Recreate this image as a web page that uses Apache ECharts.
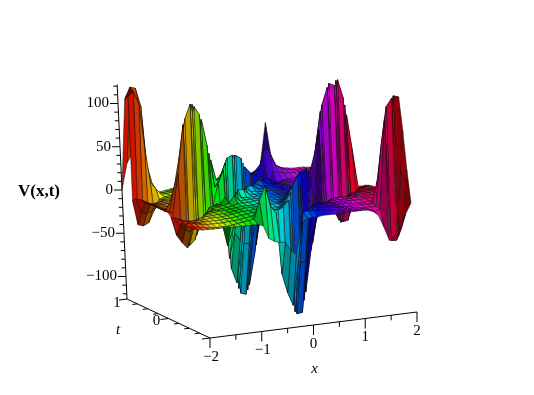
<!DOCTYPE html>
<html><head><meta charset="utf-8">
<style>html,body{margin:0;padding:0;background:#fff}#c{width:534px;height:395px}</style>
<script src="https://cdn.jsdelivr.net/npm/echarts@6/dist/echarts.min.js"></script>
</head><body><div id="c"></div>
<script>
const xValues=[-2,-1.9,-1.8,-1.7,-1.6,-1.5,-1.4,-1.3,-1.2,-1.1,-1,-0.9,-0.8,-0.7,-0.6,-0.5,-0.4,-0.3,-0.2,-0.1,0,0.1,0.2,0.3,0.4,0.5,0.6,0.7,0.8,0.9,1,1.1,1.2,1.3,1.4,1.5,1.6,1.7,1.8,1.9,2];
const tValues=[1,0.9,0.8,0.7,0.6,0.5,0.4,0.3,0.2,0.1,0,-0.1,-0.2,-0.3,-0.4,-0.5,-0.6,-0.7,-0.8,-0.9,-1];
const surface=[
[0,30,40,30,5,-9,-8,-7,-6,-5,-4,-3,-2,-1,0,1,1,1,1,2,2,2,1,1,2,5,12,58,20,8,5,4,3,3,3,2,2,2,2,1,1],
[105,118,116,95,28,6,-6,-6,-5,-4,-3,-2,-1,0,1,1,1,1,1,2,2,5,3,3,4,8,30,28,12,8,5,4,3,3,3,2,2,2,2,2,2],
[110,115,100,50,10,2,-5,-5,-4,-3,-2,-1,0,0,1,1,1,1,1,2,6,12,7,6,5,-15,-5,6,5,4,3,3,3,2,2,2,2,2,2,2,2],
[-6,-34,-36,-33,-20,-8,-6,-5,-4,-3,-2,-1,0,0,1,1,1,1,9,8,16,18,11,-72,-35,2,-6,-4,-2,-1,0,0,1,1,1,1,1,1,1,1,1],
[-2,-18,-20,-18,-12,-6,-5,-4,-3,-2,-2,-1,0,0,1,1,1,10,24,21,25,-114,-81,-36,-17,2,-2,-1,0,0,0,0,1,1,1,1,1,1,18,8,6],
[-1,-5,-8,-7,-6,-5,-4,-3,-3,-2,-2,-1,10,4,5,10,11,26,37,33,-117,-57,-40,7,6,2,0,0,0,0,0,0,0,0,1,1,1,22,47,21,10],
[0,-4,-6,-6,-5,-4,-4,-3,-3,-2,-2,12,26,10,9,26,28,40,-117,-119,-58,8,8,4,3,2,1,0,0,0,0,0,0,1,1,30,24,56,72,32,-10],
[0,-3,-5,-5,-4,-4,-3,-3,-2,23,15,32,40,16,24,40,43,-109,-58,-60,8,5,4,3,3,2,1,0,0,-1,-1,-1,0,0,30,77,63,86,-28,-20,-8],
[0,-3,-5,-5,-4,-3,-3,27,25,60,40,50,11,20,37,-83,-100,-54,8,8,4,4,3,3,2,2,1,0,0,-1,-1,-1,30,29,78,118,97,-36,-14,-10,-5],
[0,-3,-5,-4,-4,-3,29,72,65,92,62,-8,17,32,-69,-40,-50,9,4,4,3,3,3,2,2,1,1,0,-1,-1,25,30,78,76,120,-41,-40,-18,-5,-4,-3],
[0,-3,-4,-4,25,30,75,110,100,-14,-10,-3,-25,-52,-34,10,10,4,3,3,3,2,2,2,1,1,0,7,-1,24,64,77,120,117,-39,-20,-20,-4,-3,-2,-2],
[0,-2,10,25,66,77,115,-28,-19,-4,-3,-2,6,-25,10,3,3,3,3,3,2,2,2,1,1,1,8,18,20,61,99,118,-22,-34,-18,-5,-4,-3,-2,-2,-1],
[0,-2,28,64,102,118,-31,-14,-9,-3,-2,-1,1,9,2,3,3,3,3,2,2,2,2,1,8,9,20,27,50,94,-18,-20,-5,-16,-4,-3,-2,-2,-1,-1,-1],
[1,-1,43,98,-40,-34,-15,-5,-4,-3,-2,-1,0,2,2,2,3,3,3,2,2,2,1,9,22,23,31,-20,76,-16,-4,-3,-3,-3,-3,-2,-2,-1,-1,-1,-1],
[-3,-24,-33,-40,-20,-17,-5,-4,-3,-2,-2,-1,0,1,1,1,2,2,2,2,1,6,9,23,34,35,-49,-10,-12,-3,-3,-3,-3,-3,-2,-2,-2,-1,-1,-1,-1],
[-2,-12,-16,-20,-6,-5,-4,-4,-3,-3,-2,-1,0,1,1,1,1,2,2,2,5,14,22,35,-101,-55,-22,-2,-2,-3,-3,-3,-3,-3,-3,-2,-2,-2,-1,29,29],
[-1,-4,-5,-5,-5,-5,-4,-4,-4,-3,-2,-1,0,0,1,1,1,1,1,1,12,22,34,-108,-48,-25,0,-1,-2,-3,-3,-3,-4,-4,-4,-3,-3,27,29,75,74],
[-1,-3,-4,-5,-5,-5,-5,-5,-4,-4,-3,-2,-1,0,1,1,1,1,1,8,18,-120,-119,-50,2,1,0,-1,-2,-3,-4,-4,-4,-4,-4,-4,24,70,75,116,114],
[-3,-3,-4,-5,-6,-6,-6,-6,-5,-5,-4,-3,-2,0,3,20,3,2,5,12,-115,-60,-59,2,1,0,0,-1,-2,-3,-4,-4,-5,-5,-5,-5,63,107,116,-42,78],
[-4,-5,-6,-7,-8,-8,-8,-8,-7,-6,-5,-4,-3,17,34,10,2,-68,-90,-105,-55,0,0,0,0,-1,-1,-2,-3,-3,-4,-4,-4,-5,-8,-6,97,-43,-43,-28,35],
[-4,-6,-7,-7,-7,-7,-7,-7,-7,-7,-7,-7,-7,-9,-24,-28,-30,-30,-40,-45,-10,-6,-5,-5,-4,-4,-4,-3,-3,-3,-3,-3,-3,-5,-10,-24,-40,-35,-26,-12,0]
];
const zTicks=[100,50,0,-50,-100];
const zTickLabels=['100','50','0','\u221250','\u2212100'];
const zMinorTicks=[120,110,90,80,70,60,40,30,20,10,-10,-20,-30,-40,-60,-70,-80,-90,-110,-120];
const tTicks=[1,0,-1];
const tTickLabels=['1','0',''];
const tMinorTicks=[0.75,0.5,0.25,-0.25,-0.5,-0.75];
const xTicks=[-2,-1,0,1,2];
const xTickLabels=['\u22122','\u22121','0','1','2'];
const xMinorTicks=[-1.5,-0.5,0.5,1.5];
const zTop=122,zBottom=-126;

// View of the box: where its z=0 sheet and its floor corners fall on the page
const level0={a:[122,190],b:[192,225],c:[411,203],d:[335,166]};
const floor={a:[127,299],b:[210,338],c:[417,312],d:[340,275]};
const zLean=[1,111];
function bil(s,u,v,k){return (1-u)*(1-v)*s.a[k]+(1-u)*v*s.b[k]+u*v*s.c[k]+u*(1-v)*s.d[k];}
function project(x,t,z){
  const u=(x+2)/4,v=(1-t)/2,k=-z/126;
  return [bil(level0,u,v,0)+zLean[0]*k,bil(level0,u,v,1)+zLean[1]*k];
}
function projectAxis(x,t,z){
  const u=(x+2)/4,v=(1-t)/2,k=-z/126;
  const p=[bil(level0,u,v,0),bil(level0,u,v,1)],f=[bil(floor,u,v,0),bil(floor,u,v,1)];
  return [p[0]+(f[0]-p[0])*k,p[1]+(f[1]-p[1])*k];
}
function hueRgb(h){
  h=((h%360)+360)%360;const s=h/60,i=Math.floor(s),f=s-i;
  return [[1,f,0],[1-f,1,0],[0,1,f],[0,1-f,1],[f,0,1],[1,0,1-f]][i];
}
function quadColor(i,j){
  const z00=surface[i][j],z01=surface[i][j+1],z10=surface[i+1][j],z11=surface[i+1][j+1];
  const dzx=((z01-z00)+(z11-z10))/2/0.1/55, dzt=((z00-z10)+(z01-z11))/2/0.1/55;
  const len=Math.sqrt(dzx*dzx+dzt*dzt+1);
  const n=[-dzx/len,-dzt/len,1/len],L=[0.45,-0.55,0.7];
  const b=Math.abs(n[0]*L[0]+n[1]*L[1]+n[2]*L[2]);
  const f=Math.min(0.92,0.32+0.8*b);
  const u=(xValues[j]+xValues[j+1]+4)/8;
  const c=hueRgb(360*u+25*Math.sin(Math.PI*u));
  return 'rgb('+c.map(v=>Math.round(255*v*f)).join(',')+')';
}
const quads=[];
for(let i=0;i<tValues.length-1;i++)for(let j=xValues.length-2;j>=0;j--)quads.push([j,i]);

const axisItems=[];
function seg(a,b,w){axisItems.push({kind:'line',a,b,w:w||1});}
function tick(p,dx,dy){axisItems.push({kind:'tick',a:p,dx,dy});}
function txt(p,dx,dy,text,font,align){axisItems.push({kind:'text',a:p,dx,dy,text,font,align});}
const serif='"Liberation Serif","Times New Roman",serif';
seg([-2,1,zTop],[-2,1,zBottom]);
seg([-2,1,zBottom],[-2,-1,zBottom]);
seg([-2,-1,zBottom],[2,-1,zBottom]);
zTicks.forEach((z,i)=>{tick([-2,1,z],-8,0);txt([-2,1,z],-9,0,zTickLabels[i],'15px '+serif,'right');});
zMinorTicks.forEach(z=>tick([-2,1,z],-4,0));
tTicks.forEach((t,i)=>{tick([-2,t,zBottom],-8,1);if(tTickLabels[i])txt([-2,t,zBottom],t===1?-10:-12,t===1?4:3,tTickLabels[i],'15px '+serif,'center');});
tMinorTicks.forEach(t=>tick([-2,t,zBottom],-5,0.6));
xTicks.forEach((x,i)=>{tick([x,-1,zBottom],0,10);txt([x,-1,zBottom],x===-2?1:(x===-1?1:0),19,xTickLabels[i],'15px '+serif,'center');});
xMinorTicks.forEach(x=>tick([x,-1,zBottom],0,5));
txt([0,-1,zBottom],1,44,'x','italic 15px '+serif,'center');
txt([-2,1,zBottom],-9,31,'t','italic 15px '+serif,'center');
txt([-2,1,0],-83,2,'V(x,t)','bold 17px '+serif,'center');

const chart=echarts.init(document.getElementById('c'),null,{renderer:'canvas'});
chart.setOption({
  animation:false,
  backgroundColor:'#fff',
  grid:{left:0,right:0,top:0,bottom:0},
  xAxis:{type:'value',min:0,max:534,show:false},
  yAxis:{type:'value',min:0,max:395,inverse:true,show:false},
  tooltip:{show:false},
  series:[
  {
    type:'custom',coordinateSystem:'cartesian2d',silent:true,progressive:0,clip:false,
    data:quads,
    renderItem(params,api){
      const j=api.value(0),i=api.value(1);
      const pt=(r,c)=>api.coord(project(xValues[c],tValues[r],surface[r][c]));
      return {type:'polygon',shape:{points:[pt(i,j),pt(i,j+1),pt(i+1,j+1),pt(i+1,j)]},
        style:{fill:quadColor(i,j),stroke:'rgba(10,10,10,0.75)',lineWidth:0.65}};
    }
  },
  {
    type:'custom',coordinateSystem:'cartesian2d',silent:true,progressive:0,clip:false,
    data:axisItems.map((d,k)=>[k]),
    renderItem(params,api){
      const d=axisItems[api.value(0)];
      const a=api.coord(projectAxis(d.a[0],d.a[1],d.a[2]));
      if(d.kind==='line'){
        const b=api.coord(projectAxis(d.b[0],d.b[1],d.b[2]));
        return {type:'line',shape:{x1:a[0],y1:a[1],x2:b[0],y2:b[1]},style:{stroke:'#000',lineWidth:d.w}};
      }
      if(d.kind==='tick'){
        return {type:'line',shape:{x1:a[0],y1:a[1],x2:a[0]+d.dx,y2:a[1]+d.dy},style:{stroke:'#000',lineWidth:1}};
      }
      return {type:'text',style:{x:a[0]+d.dx,y:a[1]+d.dy,text:d.text,font:d.font,fill:'#000',align:d.align,verticalAlign:'middle'}};
    }
  }]
});
</script></body></html>
